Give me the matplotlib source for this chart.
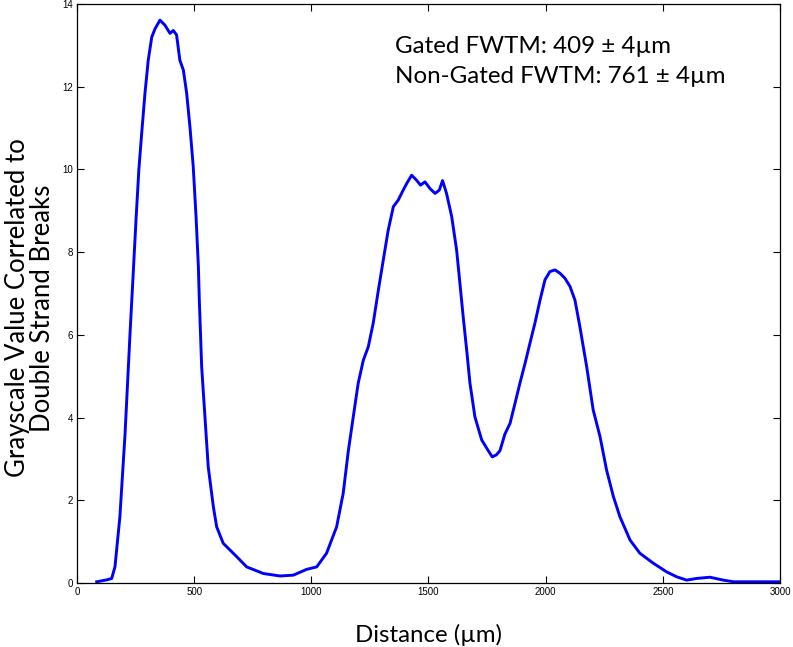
import numpy as np
import matplotlib.pyplot as plt

# distance (um) and grayscale values
distance = [84, 130, 148, 162, 183, 205, 226, 240, 252, 264, 276, 290, 304, 319, 333,
            354, 375, 397, 411, 425, 439, 454, 468, 482, 496, 508, 518, 522, 532, 546,
            560, 582, 596, 624, 681, 724, 795, 866, 923, 980, 1023, 1065, 1108, 1136,
            1158, 1179, 1200, 1222, 1243, 1264, 1286, 1307, 1328, 1350, 1371, 1392,
            1407, 1428, 1449, 1466, 1485, 1506, 1528, 1546, 1560, 1577, 1599, 1620,
            1634, 1648, 1663, 1677, 1698, 1727, 1755, 1772, 1790, 1805, 1826, 1848,
            1869, 1890, 1912, 1933, 1954, 1976, 1997, 2018, 2040, 2061, 2082, 2104,
            2125, 2146, 2175, 2203, 2232, 2260, 2289, 2317, 2360, 2402, 2459, 2516,
            2559, 2602, 2644, 2701, 2758, 2801, 2914, 2998]
grayscale = [0.03, 0.08, 0.11, 0.39, 1.6, 3.6, 6.0, 7.5, 8.8, 10.0, 10.87, 11.84,
             12.64, 13.2, 13.4, 13.61, 13.49, 13.29, 13.36, 13.25, 12.64, 12.4, 11.84,
             11.03, 10.07, 8.86, 7.65, 6.84, 5.23, 4.02, 2.81, 1.84, 1.36, 0.96, 0.64,
             0.39, 0.23, 0.17, 0.19, 0.33, 0.39, 0.72, 1.36, 2.17, 3.2, 4.02, 4.83,
             5.39, 5.71, 6.28, 7.08, 7.81, 8.53, 9.1, 9.26, 9.5, 9.66, 9.86, 9.74,
             9.62, 9.7, 9.54, 9.42, 9.5, 9.73, 9.42, 8.86, 8.05, 7.25, 6.44, 5.63,
             4.83, 4.02, 3.46, 3.2, 3.05, 3.1, 3.2, 3.6, 3.86, 4.34, 4.83, 5.31, 5.8,
             6.28, 6.84, 7.33, 7.53, 7.57, 7.49, 7.37, 7.17, 6.84, 6.2, 5.23, 4.18,
             3.54, 2.73, 2.09, 1.6, 1.04, 0.72, 0.48, 0.27, 0.15, 0.07, 0.11, 0.14,
             0.07, 0.03, 0.03, 0.03]

fig = plt.figure(figsize=(7.93, 6.47), dpi=100)
ax = fig.add_axes([0.0971, 0.0989, 0.8865, 0.8949])

ax.plot(distance, grayscale, color='#0000ff', linewidth=2.1)

ax.set_xlim(0, 3000)
ax.set_ylim(0, 14)
ax.set_xticks(np.arange(0, 3001, 500))
ax.set_yticks(np.arange(0, 15, 2))
ax.tick_params(direction='in', top=True, right=True, length=5, width=0.8,
               labelsize=7, pad=3)
for lab in ax.get_xticklabels() + ax.get_yticklabels():
    lab.set_family('Liberation Sans')
for s in ax.spines.values():
    s.set_linewidth(0.9)

ax.set_xlabel('Distance (µm)', family='Lato', fontsize=17.3)
ax.xaxis.set_label_coords(0.5, -0.071)
ax.set_ylabel('Grayscale Value Correlated to\nDouble Strand Breaks',
              family='Lato', fontsize=18.5, linespacing=1.02)
ax.yaxis.set_label_coords(-0.031, 0.475)

ax.text(0.452, 0.9154, 'Gated FWTM: 409 ± 4µm', transform=ax.transAxes,
        family='Lato', fontsize=17.4, va='baseline')
ax.text(0.452, 0.8636, 'Non-Gated FWTM: 761 ± 4µm', transform=ax.transAxes,
        family='Lato', fontsize=17.4, va='baseline')

plt.savefig('out.png', dpi=100)
plt.close()
